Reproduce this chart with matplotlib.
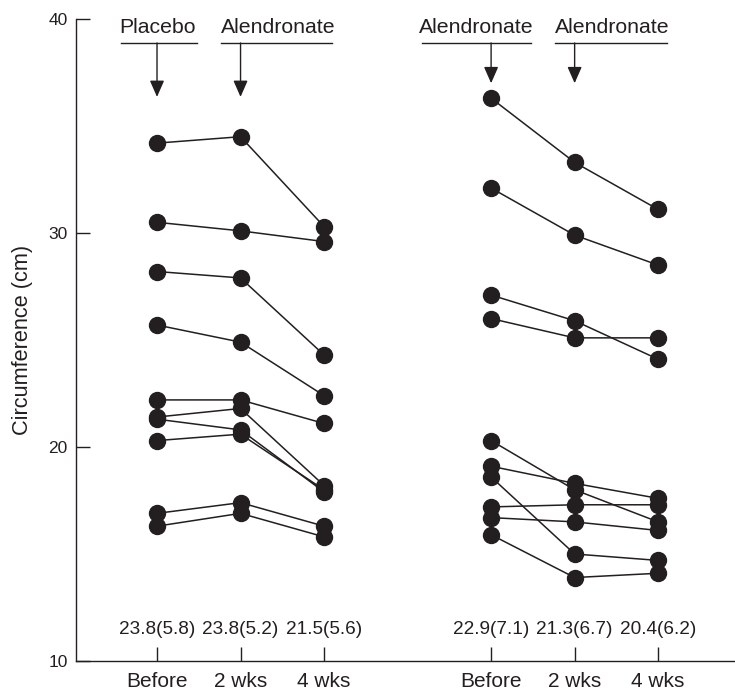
import numpy as np
import matplotlib
matplotlib.use('Agg')
from matplotlib import pyplot as plt

plt.rcParams['font.family'] = ['Liberation Sans', 'DejaVu Sans']

INK = '#231f20'

# time points per group
time_labels = ['Before', '2 wks', '4 wks']
placebo_x = [1, 2, 3]
alend_x = [5, 6, 7]

# left group: placebo then alendronate (one row per subject)
left_before = [34.2, 30.5, 28.2, 25.7, 22.2, 21.4, 21.3, 20.3, 16.9, 16.3]
left_2wks = [34.5, 30.1, 27.9, 24.9, 22.2, 21.8, 20.8, 20.6, 17.4, 16.9]
left_4wks = [30.3, 29.6, 24.3, 22.4, 21.1, 18.2, 17.9, 18.0, 16.3, 15.8]

# right group: alendronate throughout
right_before = [36.3, 32.1, 27.1, 26.0, 20.3, 19.1, 18.6, 17.2, 16.7, 15.9]
right_2wks = [33.3, 29.9, 25.9, 25.1, 18.0, 18.3, 15.0, 17.3, 16.5, 13.9]
right_4wks = [31.1, 28.5, 24.1, 25.1, 16.5, 17.6, 14.7, 17.3, 16.1, 14.1]

left_means = ['23.8(5.8)', '23.8(5.2)', '21.5(5.6)']
right_means = ['22.9(7.1)', '21.3(6.7)', '20.4(6.2)']

left_arrows = ['Placebo', 'Alendronate']
right_arrows = ['Alendronate', 'Alendronate']

fig = plt.figure(figsize=(7.35, 6.93), dpi=100)
ax = fig.add_axes([76 / 735, 1 - 661 / 693, (735 - 76) / 735, (661 - 19) / 693])

for xs, cols in [(placebo_x, (left_before, left_2wks, left_4wks)),
                 (alend_x, (right_before, right_2wks, right_4wks))]:
    data = np.array(cols).T
    for row in data:
        ax.plot(xs, row, color=INK, lw=1.1, marker='o', ms=11.5,
                mfc=INK, mec=INK, zorder=3)

# means (SD) row
for xs, txt in [(placebo_x, left_means), (alend_x, right_means)]:
    for x, t in zip(xs, txt):
        ax.text(x, 11.45, t, ha='center', va='center', fontsize=13.7, color=INK)

# treatment arrows with underlined labels
def treatment(x, label, span, text_x, tip):
    ax.text(text_x, 39.58, label, ha='center', va='center', fontsize=15.3,
            color=INK, clip_on=False)
    ax.plot(span, [38.88, 38.88], color=INK, lw=1.0, clip_on=False)
    ax.annotate('', xy=(x, tip), xytext=(x, 38.88),
                arrowprops=dict(arrowstyle='-|>,head_length=0.5,head_width=0.22',
                                mutation_scale=20, lw=1.0, color=INK,
                                shrinkA=0, shrinkB=0))

treatment(placebo_x[0], left_arrows[0], [0.57, 1.48], 1.0, 36.36)
treatment(placebo_x[1], left_arrows[1], [1.77, 3.10], 2.45, 36.36)
treatment(alend_x[0], right_arrows[0], [4.17, 5.48], 4.82, 37.0)
treatment(alend_x[1], right_arrows[1], [5.77, 7.10], 6.45, 37.0)

ax.set_xlim(0.03, 7.92)
ax.set_ylim(10, 40)
ax.set_yticks([10, 20, 30, 40])
ax.set_xticks(placebo_x + alend_x)
ax.set_xticklabels(time_labels * 2, fontsize=15, color=INK)
ax.tick_params(axis='x', direction='in', length=10, width=1.0, pad=8, colors=INK)
ax.tick_params(axis='y', direction='in', length=10, width=1.0, pad=6,
               labelsize=12.5, colors=INK)
ax.set_ylabel('Circumference (cm)', fontsize=15.7, color=INK, labelpad=11)

for s in ['top', 'right']:
    ax.spines[s].set_visible(False)
for s in ['left', 'bottom']:
    ax.spines[s].set_color(INK)
    ax.spines[s].set_linewidth(1.0)

fig.savefig('out.png', dpi=100)
